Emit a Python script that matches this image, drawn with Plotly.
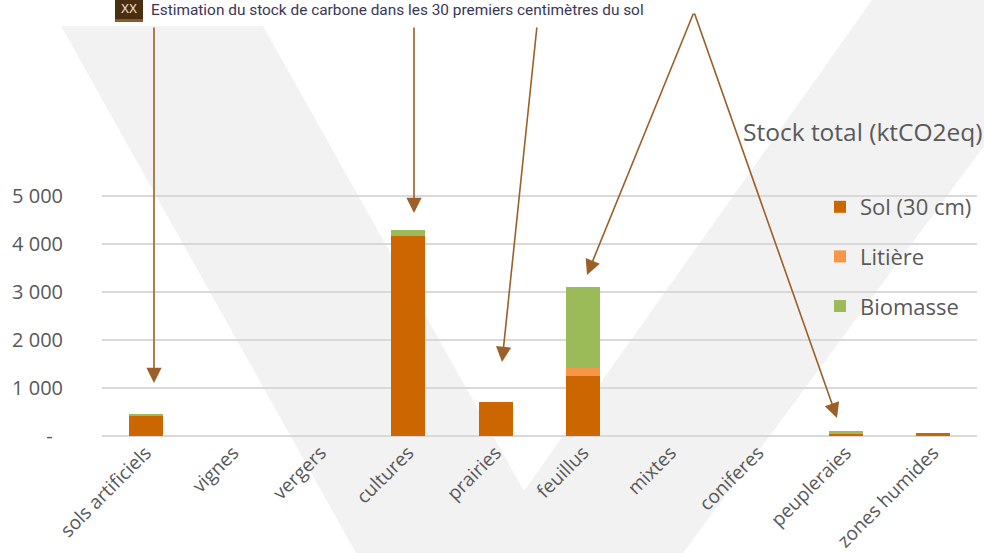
import plotly.graph_objects as go

# --- data -------------------------------------------------------------
categories = ["sols artificiels", "vignes", "vergers", "cultures", "prairies",
              "feuillus", "mixtes", "coniferes", "peupleraies", "zones humides"]
sol = [420, 0, 0, 4175, 705, 1255, 0, 0, 55, 68]
litiere = [5, 0, 0, 0, 0, 165, 0, 0, 5, 0]
biomasse = [25, 0, 0, 130, 0, 1700, 0, 0, 55, 0]

y_tickvals = [0, 1000, 2000, 3000, 4000, 5000]
y_ticktext = ["-\u00a0\u00a0", "1 000", "2 000", "3 000", "4 000", "5 000"]

series_names = ["Sol (30 cm)", "Litière", "Biomasse"]
series_colors = ["#cc6600", "#f79646", "#9bbb59"]

title_text = "Estimation du stock de carbone dans les 30 premiers centimètres du sol"
chart_title = "Stock total (ktCO2eq)"

# --- page geometry (pixels) -------------------------------------------
W, H = 984, 553
ML, MR, MT, MB = 102, 7, 194, 116
PW, PH = W - ML - MR, H - MT - MB


def px(x):
    return (x - ML) / PW


def py(y):
    return (H - MB - y) / PH


GREY_TXT = "#595959"
FONT = "Open Sans"
ARROW = "#9b5f27"

fig = go.Figure()
for name, vals, col in zip(series_names, [sol, litiere, biomasse], series_colors):
    fig.add_trace(go.Bar(
        x=categories, y=vals, name=name, legendgroup=name,
        marker=dict(color=col, line=dict(width=0)),
    ))

# background "V" watermark
v_pts = [(61, 26), (263, 26), (524, 491), (872, 0), (984, 0), (984, 146),
         (683, 553), (356, 553)]
path = "M " + " L ".join(f"{px(x):.5f},{py(y):.5f}" for x, y in v_pts) + " Z"
shapes = [dict(type="path", path=path, xref="paper", yref="paper",
               fillcolor="#f2f2f2", line=dict(width=0), layer="below")]

# title badge
shapes.append(dict(type="rect", xref="paper", yref="paper",
                   x0=px(115), x1=px(143), y0=py(0), y1=py(19),
                   fillcolor="#4a2e12", line=dict(width=0), layer="above"))
shapes.append(dict(type="rect", xref="paper", yref="paper",
                   x0=px(115), x1=px(143), y0=py(19), y1=py(22),
                   fillcolor="#8b5a2b", line=dict(width=0), layer="above"))

annotations = [
    dict(text="XX", xref="paper", yref="paper", x=px(129), y=py(9),
         showarrow=False, font=dict(family="Liberation Sans", size=12, color="#f0e6dc"),
         xanchor="center", yanchor="middle"),
    dict(text=title_text, xref="paper", yref="paper", x=px(149), y=py(10),
         showarrow=False, font=dict(family="Roboto", size=15.4, color="#3a3656"),
         xanchor="left", yanchor="middle"),
    dict(text=chart_title, xref="paper", yref="paper", x=px(741), y=py(131),
         showarrow=False, font=dict(family=FONT, size=24.5, color=GREY_TXT),
         xanchor="left", yanchor="middle"),
]

# pointer arrows: (tip_x, tip_y, tail_x, tail_y)
arrows = [(154, 383, 154, 26), (414, 213, 414, 26), (502, 362, 537, 26),
          (587, 275, 694, 12), (837, 418, 694, 12)]
for tx, ty, sx, sy in arrows:
    annotations.append(dict(
        x=px(tx), y=py(ty), xref="paper", yref="paper", text="",
        showarrow=True, ax=sx - tx, ay=sy - ty, axref="pixel", ayref="pixel",
        arrowhead=2, arrowsize=1.9, arrowwidth=1.6, arrowcolor=ARROW, standoff=0,
    ))

fig.update_layout(
    width=W, height=H, margin=dict(l=ML, r=MR, t=MT, b=MB, pad=0, autoexpand=False),
    paper_bgcolor="white", plot_bgcolor="rgba(0,0,0,0)",
    barmode="stack", bargap=0.61,
    shapes=shapes, annotations=annotations,
    legend=dict(x=px(820), y=py(186), xanchor="left", yanchor="top",
                traceorder="grouped", tracegroupgap=18,
                bgcolor="rgba(0,0,0,0)",
                font=dict(family=FONT, size=22, color=GREY_TXT)),
    showlegend=True,
)
fig.update_yaxes(range=[-20, 5050], tickvals=y_tickvals, ticktext=y_ticktext,
                 showgrid=True, gridcolor="#d9d9d9", gridwidth=2,
                 zeroline=True, zerolinecolor="#d9d9d9", zerolinewidth=2,
                 showline=False, ticks="", ticklabelstandoff=38, automargin=False,
                 tickfont=dict(family=FONT, size=20, color=GREY_TXT))
fig.update_xaxes(tickangle=-45, showgrid=False, showline=False, ticks="",
                 automargin=False,
                 tickfont=dict(family=FONT, size=19, color=GREY_TXT))

fig.write_html("out.html")
